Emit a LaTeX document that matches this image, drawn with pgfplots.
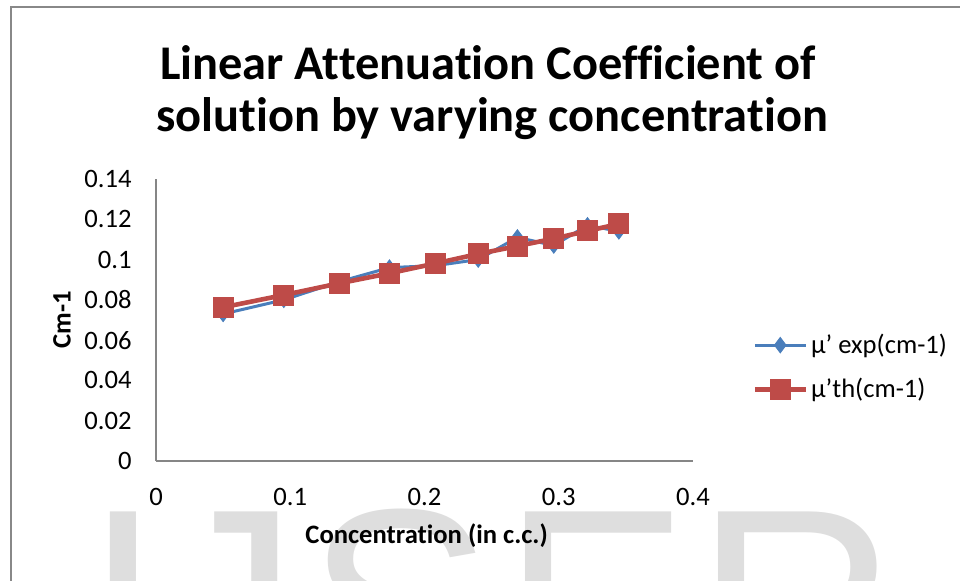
\documentclass[border=0pt]{standalone}
\usepackage{pgfplots}
\pgfplotsset{compat=1.18}
\usepackage{fontspec}
\setmainfont{Carlito}[Ligatures=NoCommon]
\newfontfamily\wmfont{Liberation Sans}
\definecolor{xblue}{HTML}{4A7EBB}
\definecolor{xred}{HTML}{BE4B48}
\definecolor{wm}{HTML}{DEDEDE}
\definecolor{axgray}{HTML}{868686}
\definecolor{frame}{HTML}{888888}
\begin{document}
\begin{tikzpicture}[x=0.5pt,y=-0.5pt]
\path[use as bounding box] (0,0) rectangle (960,581);
\begin{scope}
\clip (0,0) rectangle (960,581);
\draw[frame, line width=1.3pt] (11,7) rectangle (1000,700);
\begin{scope}[every node/.style={inner sep=0pt, anchor=base, text=wm, font=\wmfont\fontsize{140pt}{140pt}\selectfont}]
\node at (123,705) {I};
\node at (228,705) {J};
\node at (400,705) {S};
\node at (596,705) {E};
\node at (797,705) {R};
\end{scope}
\end{scope}
\node[anchor=base, font=\bfseries\fontsize{24.2pt}{30pt}\selectfont, inner sep=0pt] at (488,80) {Linear Attenuation Coefficient of};
\node[anchor=base, font=\bfseries\fontsize{24.2pt}{30pt}\selectfont, inner sep=0pt] at (492,132) {solution by varying concentration};
\begin{axis}[
  at={(78pt,-230.5pt)}, anchor=south west,
  width=268.5pt, height=141pt, scale only axis,
  xmin=0, xmax=0.4, ymin=0, ymax=0.14,
  axis x line=bottom, axis y line=left,
  axis line style={-, axgray, line width=0.8pt},
  major tick length=0pt,
  xtick={0,0.1,0.2,0.3,0.4},
  xticklabels={0,0.1,0.2,0.3,0.4},
  ytick={0,0.02,0.04,0.06,0.08,0.1,0.12,0.14},
  yticklabels={0,0.02,0.04,0.06,0.08,0.1,0.12,0.14},
  tick label style={font=\fontsize{13.3pt}{16pt}\selectfont},
  yticklabel style={anchor=east, inner sep=0pt, xshift=-12pt},
  xticklabel style={anchor=north, inner sep=0pt, yshift=-13.5pt},
  xlabel={\bfseries Concentration (in c.c.)},
  ylabel={\bfseries Cm-1},
  label style={font=\bfseries\fontsize{13.3pt}{16pt}\selectfont},
  xlabel style={at={(axis description cs:0.504,-0.266)}, anchor=center},
  ylabel style={at={(axis description cs:-0.175,0.5)}, anchor=center, rotate=0},
  legend style={draw=none, fill=none, at={(axis description cs:1.11,0.332)}, anchor=west,
    font=\fontsize{13.3pt}{16pt}\selectfont, row sep=8pt, inner sep=0pt,
    nodes={inner sep=1.5pt}},
  legend cell align=left,
  legend image code/.code={\draw[mark repeat=2, mark phase=2, #1] plot coordinates {(0pt,0pt) (12.75pt,0pt) (25.5pt,0pt)};},
  clip=false,
]
\addplot[color=xblue, line width=1.5pt, mark=diamond*, mark size=3.8pt, mark options={solid, fill=xblue, draw=xblue, line width=0.5pt}]
 coordinates {(0.05,0.073) (0.0952,0.080) (0.1364,0.089) (0.1739,0.096) (0.2083,0.097) (0.24,0.100) (0.2692,0.111) (0.2963,0.107) (0.3214,0.117) (0.3448,0.114)};
\addlegendentry{μ’ exp(cm-1)}
\addplot[color=xred, line width=2.3pt, mark=square*, mark size=5pt, mark options={solid, fill=xred, draw=xred, line width=0.5pt}]
 coordinates {(0.05,0.0763) (0.0952,0.0824) (0.1364,0.0882) (0.1739,0.0932) (0.2083,0.0981) (0.24,0.1028) (0.2692,0.1067) (0.2963,0.1104) (0.3214,0.1142) (0.3448,0.1177)};
\addlegendentry{μ’th(cm-1)}
\end{axis}
\end{tikzpicture}
\end{document}
